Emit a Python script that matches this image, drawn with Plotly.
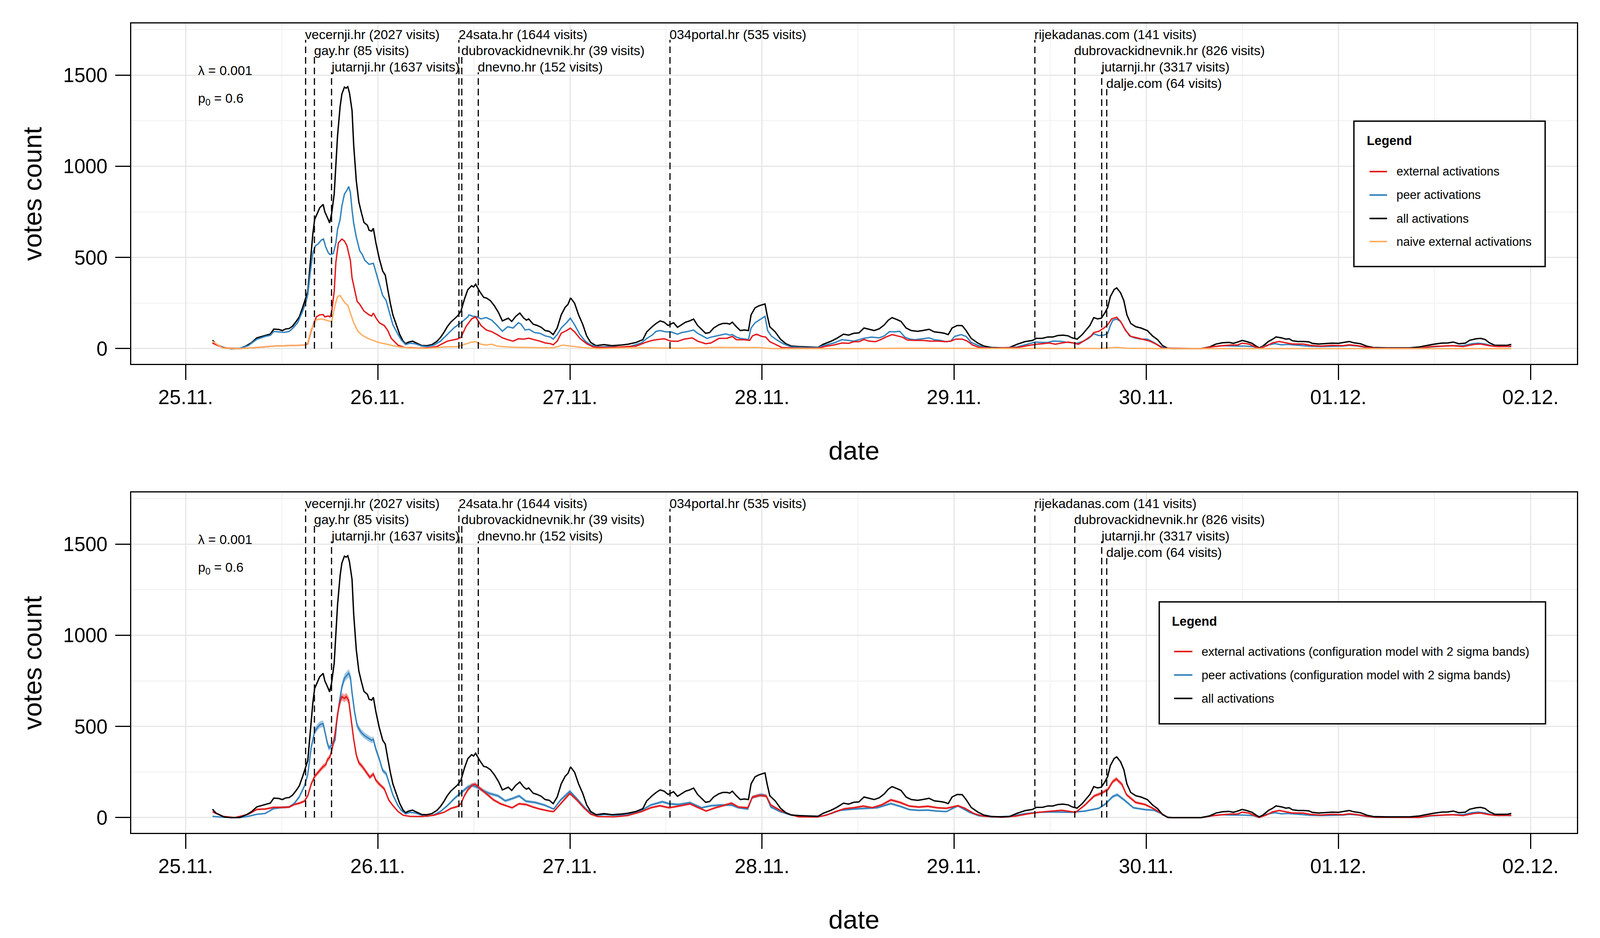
import numpy as np
import pandas as pd
import plotly.graph_objects as go

START = pd.Timestamp("2013-11-25 00:00")

# (hours since 25.11. 00:00, votes count)
ALL_ACT = [(3.35,46),(3.78,25),(4.20,16),(4.84,3),(5.69,0),(6.75,1),(7.60,16),(8.24,33),(8.88,59),(9.94,73),(10.58,80),(11.00,107),(11.64,105),(12.07,99),(12.49,108),(12.92,110),(13.34,123),(13.77,147),(14.19,174),(14.62,227),(15.04,281),(15.25,313),(15.57,473),(15.89,633),(16.11,708),(16.42,740),(16.74,772),(17.17,791),(17.38,750),(17.81,708),(17.98,689),(18.23,740),(18.55,847),(18.76,1007),(18.97,1167),(19.29,1327),(19.51,1396),(19.83,1434),(20.04,1428),(20.25,1436),(20.46,1402),(20.78,1306),(20.99,1113),(21.31,921),(21.63,804),(21.95,745),(22.27,692),(22.70,676),(22.91,649),(23.23,644),(23.44,660),(23.76,580),(24.18,494),(24.61,425),(24.93,403),(25.25,323),(25.56,249),(25.88,185),(26.31,131),(26.73,78),(27.16,41),(27.48,27),(27.80,35),(28.33,41),(28.86,30),(29.50,17),(30.14,16),(30.77,22),(31.41,41),(31.84,62),(32.26,89),(32.69,121),(33.11,145),(33.54,163),(33.96,179),(34.39,206),(34.81,270),(35.24,323),(35.72,345),(35.96,338),(36.22,353),(36.73,313),(37.23,281),(37.56,278),(38.06,263),(38.56,235),(39.06,199),(39.56,152),(39.90,159),(40.30,167),(40.73,149),(41.23,177),(41.74,195),(42.24,167),(42.57,156),(42.84,163),(43.41,134),(43.91,127),(44.41,117),(44.91,99),(45.41,95),(45.91,77),(46.41,113),(46.91,185),(47.41,227),(47.75,242),(48.08,278),(48.58,249),(49.08,185),(49.59,134),(50.09,70),(50.59,34),(51.26,16),(52.26,22),(53.26,16),(54.26,19),(55.26,24),(56.27,34),(57.10,49),(57.60,92),(58.27,120),(58.77,138),(59.27,152),(59.77,145),(60.27,127),(60.94,142),(61.44,117),(61.94,131),(62.45,145),(62.95,152),(63.45,162),(63.95,127),(64.45,106),(64.95,84),(65.45,88),(65.95,113),(66.62,131),(67.12,138),(67.62,138),(67.96,134),(68.29,145),(68.79,120),(69.29,99),(69.79,102),(70.30,99),(70.63,185),(71.13,224),(71.63,235),(72.13,242),(72.37,245),(72.63,185),(72.97,120),(73.64,92),(74.30,52),(74.97,27),(75.64,14),(76.64,11),(77.64,9),(78.98,7),(79.65,24),(80.65,41),(81.32,56),(82.18,79),(82.82,74),(83.46,84),(84.10,86),(84.74,113),(85.37,106),(86.01,99),(86.65,109),(87.29,131),(87.77,156),(88.24,170),(88.88,159),(89.36,149),(90.00,113),(90.64,99),(91.43,95),(92.07,99),(92.87,106),(93.51,92),(94.30,88),(94.78,84),(95.26,77),(95.74,113),(96.38,127),(97.01,126),(97.49,99),(98.13,56),(98.93,31),(99.72,14),(100.68,6),(101.96,4),(102.91,6),(103.87,24),(104.83,38),(105.78,45),(106.26,56),(107.06,57),(107.70,64),(108.33,64),(108.97,72),(109.61,74),(110.25,70),(110.73,59),(111.36,52),(112.00,77),(112.48,102),(112.96,127),(113.44,170),(113.91,163),(114.39,167),(114.87,199),(115.19,227),(115.51,285),(115.99,324),(116.31,333),(116.79,306),(117.20,263),(117.58,185),(118.06,138),(118.70,120),(119.34,113),(120.13,99),(120.77,70),(121.41,49),(122.05,16),(122.69,2),(123.32,0),(126.83,0),(127.88,9),(128.70,25),(129.52,32),(130.34,34),(130.88,29),(131.43,36),(131.98,45),(132.52,39),(133.21,29),(133.75,13),(134.11,4),(134.57,14),(135.26,39),(135.80,52),(136.21,64),(136.90,59),(137.44,52),(137.85,54),(138.26,43),(138.95,39),(139.63,39),(140.31,37),(140.72,29),(141.54,25),(142.36,27),(143.18,30),(144.00,29),(144.82,34),(145.37,39),(145.92,32),(146.74,27),(147.56,13),(148.38,6),(150.02,4),(151.38,5),(153.02,5),(154.12,9),(154.94,16),(155.76,23),(156.85,30),(157.67,31),(158.35,36),(159.04,27),(159.86,30),(160.40,46),(161.22,54),(161.77,56),(162.32,50),(162.86,32),(163.55,18),(164.23,18),(165.05,18),(165.60,23)]

EXT_HEAD = [(3.35,30),(4.63,5),(6.75,0),(8.88,6),(11.00,14),(13.13,16),(14.83,19),(15.25,27),(15.68,99),(16.32,174),(16.74,185),(17.17,187),(17.38,174),(17.81,179),(18.02,174),(18.23,201),(18.55,313),(18.76,473),(19.08,580),(19.51,601),(19.83,590),(20.14,564),(20.57,484),(20.78,388),(21.10,323),(21.42,259),(21.74,243),(22.27,206),(22.91,185),(23.23,179),(23.44,195),(23.76,169),(24.18,142),(24.82,126),(25.25,99),(25.67,57),(26.52,19),(27.37,6),(29.07,3),(30.14,3),(31.41,12),(32.69,41),(33.96,53),(34.39,62),(35.02,121),(35.72,163),(36.22,174),(36.89,127),(37.56,102),(38.23,93),(38.90,77),(39.56,59),(40.23,49),(40.90,41),(41.57,54),(42.24,52),(42.84,57),(43.57,49),(44.24,41),(44.91,31),(45.58,27),(45.91,21),(46.41,41),(46.91,84),(47.58,99),(48.05,112),(48.58,92),(49.25,56),(50.09,27),(50.92,9),(52.26,6),(54.26,9),(56.27,14),(57.44,34),(58.27,45),(58.94,50),(59.77,54),(60.61,41),(61.44,40),(62.28,52),(63.28,59),(63.95,41),(64.95,27),(65.62,31),(66.62,56),(67.62,57),(68.29,67),(68.79,49),(69.63,49),(70.46,45),(70.80,70),(71.30,79),(71.97,67),(72.47,63),(72.97,38),(73.64,24),(74.47,6),(76.64,2),(78.98,2),(79.98,13),(80.98,20),(81.99,31),(82.82,29),(83.46,38),(84.10,38),(84.74,50),(85.37,41),(86.17,38),(86.81,49),(87.45,63),(88.24,77),(88.88,70),(89.52,63),(90.16,47),(91.11,45),(92.07,45),(93.03,41),(93.98,41),(94.94,38),(95.58,41),(96.22,52),(97.01,52),(97.65,41),(98.29,20),(99.09,7),(100.68,2),(103.87,6),(105.15,16),(106.26,24),(107.06,27),(107.86,31),(108.65,24),(109.45,31),(110.25,36),(110.89,31),(111.52,24),(112.16,41),(113.12,70),(113.44,88),(114.07,95),(114.71,113),(115.19,131),(115.67,163),(116.31,172),(116.79,149),(117.42,99),(118.06,67),(118.86,59),(119.66,49),(120.45,41),(121.25,24),(122.05,2),(126.83,0)]

EXT_TAIL = [(128.43,11),(129.52,16),(130.61,20),(131.43,20),(131.98,30),(132.80,25),(133.62,11),(134.11,1),(134.98,14),(135.80,32),(136.62,39),(137.44,32),(138.26,25),(139.63,25),(140.45,18),(141.82,14),(143.18,18),(144.55,16),(145.37,21),(146.46,16),(147.56,7),(148.65,2),(154.12,1),(155.48,11),(156.85,13),(158.22,16),(159.58,11),(160.95,23),(161.77,25),(162.86,16),(163.96,11),(165.60,13)]

PEER_HEAD = [(3.35,33),(4.20,14),(5.05,3),(6.75,1),(7.81,16),(8.88,51),(9.94,67),(10.58,73),(11.00,94),(11.64,91),(12.28,89),(12.92,94),(13.34,110),(13.98,142),(14.62,206),(15.04,259),(15.25,297),(15.57,420),(15.89,526),(16.21,564),(16.53,574),(16.96,596),(17.21,601),(17.49,558),(17.81,526),(18.02,516),(18.44,521),(18.76,580),(18.97,654),(19.29,708),(19.51,782),(19.83,847),(20.14,868),(20.36,889),(20.57,857),(20.78,761),(20.99,686),(21.31,612),(21.74,537),(22.06,516),(22.38,484),(22.91,462),(23.44,468),(23.76,420),(24.18,355),(24.61,291),(25.03,265),(25.46,195),(25.88,131),(26.52,78),(26.95,46),(27.48,22),(28.01,30),(28.65,27),(29.50,14),(30.14,11),(30.99,19),(31.84,41),(32.69,78),(33.54,115),(34.39,142),(35.24,174),(35.39,185),(35.89,177),(36.22,177),(36.89,163),(37.56,170),(38.23,156),(38.90,127),(39.56,95),(40.23,120),(40.90,113),(41.57,142),(41.90,134),(42.40,102),(42.90,106),(43.57,88),(44.24,84),(44.91,70),(45.58,63),(45.91,52),(46.41,77),(46.91,113),(47.58,142),(48.05,167),(48.58,131),(49.25,77),(49.92,41),(50.59,20),(51.59,9),(52.93,11),(54.26,7),(55.60,13),(56.93,31),(57.60,56),(58.27,74),(58.77,95),(59.27,99),(59.94,92),(60.61,92),(61.44,79),(61.94,88),(62.61,93),(63.45,102),(63.95,84),(64.62,67),(65.12,56),(65.62,63),(66.29,70),(66.95,77),(67.46,81),(67.96,74),(68.29,77),(68.79,63),(69.29,56),(69.96,52),(70.30,49),(70.63,113),(71.13,142),(71.63,156),(72.13,170),(72.37,177),(72.70,99),(73.14,70),(73.80,49),(74.64,27),(75.64,9),(77.64,6),(78.98,6),(79.65,16),(80.98,31),(81.99,49),(82.82,45),(83.46,41),(84.10,49),(84.74,57),(85.69,63),(86.65,59),(87.29,70),(87.93,93),(88.56,92),(89.20,95),(89.84,63),(90.48,52),(91.11,49),(91.75,52),(92.87,59),(93.51,49),(94.30,45),(94.94,38),(95.58,41),(96.06,67),(96.85,77),(97.49,67),(98.13,34),(99.09,16),(100.04,4),(101.96,2),(103.87,9),(105.15,24),(106.10,36),(107.06,34),(107.70,34),(108.33,41),(109.29,40),(110.25,34),(111.36,29),(112.16,41),(112.80,56),(113.44,81),(114.07,72),(114.71,74),(115.19,84),(115.51,127),(115.83,156),(116.31,162),(116.79,149),(117.26,113),(117.90,70),(118.54,59),(119.34,52),(120.13,52),(120.93,34),(121.73,13),(122.37,2),(126.83,0)]

PEER_TAIL = [(128.43,11),(129.52,16),(130.61,14),(131.43,14),(132.25,14),(133.34,11),(134.11,1),(134.98,18),(136.08,27),(136.90,21),(137.72,23),(139.08,18),(140.45,13),(141.82,11),(143.18,13),(144.55,14),(145.37,18),(146.46,14),(147.56,6),(148.65,1),(154.12,1),(155.48,9),(156.85,13),(158.22,16),(159.58,16),(160.68,27),(161.50,30),(162.32,25),(163.41,13),(165.60,11)]

NAIVE_EXT = [(3.35,40),(4.63,3),(6.75,0),(8.88,6),(11.00,14),(13.13,16),(14.83,19),(15.25,30),(15.68,105),(16.32,158),(16.96,163),(17.38,158),(17.81,153),(18.23,147),(18.66,238),(18.97,286),(19.29,291),(19.51,275),(19.93,249),(20.25,238),(20.57,195),(20.99,142),(21.53,94),(22.06,73),(22.70,57),(23.33,46),(24.18,33),(25.03,25),(25.88,16),(26.73,9),(28.01,3),(30.14,1),(32.26,9),(33.96,11),(35.02,25),(35.66,35),(36.22,38),(36.89,24),(37.56,20),(38.23,24),(38.90,14),(40.23,9),(41.57,7),(44.91,6),(45.91,4),(47.08,19),(48.25,13),(49.59,6),(51.59,0),(54.93,4),(58.27,4),(61.61,2),(66.62,7),(68.29,6),(71.63,6),(73.30,0),(84.00,0),(90.00,2),(100.00,1),(110.00,2),(114.40,1),(116.31,7),(117.60,2),(122.00,0),(165.60,0)]

CFG_EXT_HEAD = [(3.35,32),(4.63,7),(6.11,0),(7.81,18),(8.88,45),(9.94,47),(11.00,56),(12.07,56),(12.92,58),(13.55,72),(14.19,79),(14.83,90),(15.25,120),(15.68,184),(16.11,226),(16.53,248),(16.96,269),(17.17,280),(17.49,290),(17.70,317),(18.02,333),(18.34,386),(18.66,461),(18.97,568),(19.29,637),(19.51,664),(19.83,653),(20.04,664),(20.36,643),(20.57,568),(20.78,493),(20.99,429),(21.31,344),(21.63,301),(22.06,280),(22.59,248),(23.01,221),(23.44,239),(23.76,205),(24.18,184),(24.82,157),(25.35,98),(25.88,66),(26.52,34),(27.16,13),(28.01,7),(29.50,6),(30.99,13),(32.26,29),(33.11,50),(33.96,61),(34.39,77),(34.81,120),(35.24,152),(35.77,178),(36.16,183),(36.74,162),(37.32,140),(37.90,119),(38.47,97),(39.34,76),(40.20,62),(40.78,54),(41.65,76),(42.51,72),(43.38,58),(44.24,47),(45.40,36),(45.97,33),(46.84,76),(47.99,133),(48.86,97),(49.73,54),(50.59,19),(51.46,6),(53.48,4),(55.21,11),(56.94,33),(58.09,54),(59.25,65),(60.40,54),(61.56,63),(63.00,76),(63.86,58),(65.02,36),(66.17,54),(67.33,69),(68.19,79),(69.06,58),(70.21,54),(70.79,112),(71.65,122),(72.52,119),(73.10,69),(74.25,40),(75.41,19),(76.56,4),(78.87,3),(80.02,13),(81.18,33),(82.33,49),(83.48,54),(84.64,63),(85.79,54),(86.95,70),(88.10,97),(89.25,83),(90.41,63),(91.56,58),(92.72,62),(93.87,54),(95.03,51),(96.47,65),(97.33,51),(98.49,22),(99.64,8),(101.95,2),(103.68,8),(105.41,22),(106.57,29),(107.72,34),(109.45,40),(111.18,29),(112.34,69),(113.49,119),(114.36,133),(115.22,155),(115.80,197),(116.26,212),(116.95,183),(117.53,126),(118.69,83),(119.84,72),(121.00,47),(122.03,19),(122.69,0),(126.83,0)]

CFG_PEER_HEAD = [(3.35,7),(4.63,2),(6.75,0),(7.81,7),(8.88,18),(9.94,23),(11.00,50),(12.07,56),(12.92,58),(13.55,77),(14.19,114),(14.83,173),(15.25,237),(15.68,386),(16.11,472),(16.53,499),(16.85,512),(17.17,515),(17.38,472),(17.70,408),(17.91,381),(18.23,397),(18.66,424),(18.87,525),(19.19,632),(19.51,717),(19.83,765),(20.14,781),(20.36,792),(20.57,771),(20.78,685),(21.10,579),(21.42,504),(21.84,472),(22.16,456),(22.48,445),(22.91,434),(23.23,424),(23.44,429),(23.76,375),(24.18,322),(24.61,258),(25.03,242),(25.46,184),(25.88,125),(26.52,66),(26.95,39),(27.48,21),(28.01,29),(28.65,26),(29.50,13),(30.14,7),(30.99,15),(31.84,34),(32.69,66),(33.54,104),(34.39,136),(35.24,168),(35.77,178),(36.16,172),(37.03,151),(37.90,133),(39.05,119),(39.92,92),(40.78,104),(41.65,119),(42.51,90),(43.67,83),(44.82,69),(45.97,47),(46.84,97),(47.99,144),(48.86,104),(50.01,47),(51.17,11),(52.32,17),(53.48,13),(55.21,15),(56.94,40),(58.09,69),(59.54,87),(60.40,76),(61.56,72),(63.00,82),(64.44,54),(65.59,65),(66.75,69),(68.19,69),(69.06,54),(70.21,47),(70.79,112),(71.94,126),(72.52,119),(73.10,58),(74.25,33),(75.41,17),(77.13,8),(79.44,8),(80.60,22),(81.75,40),(83.48,47),(85.22,51),(86.37,54),(88.10,77),(89.25,62),(90.41,44),(91.56,40),(92.72,41),(93.87,36),(95.03,33),(96.47,65),(97.91,29),(99.07,10),(100.80,3),(103.10,8),(104.83,22),(106.57,29),(108.30,31),(110.61,29),(112.34,36),(114.07,51),(114.93,76),(115.80,115),(116.37,126),(117.24,97),(118.40,54),(119.84,44),(121.00,40),(122.03,19),(122.69,0),(126.83,0)]

SITES = ["vecernji.hr", "gay.hr", "jutarnji.hr", "24sata.hr", "dubrovackidnevnik.hr", "dnevno.hr",
         "034portal.hr", "rijekadanas.com", "dubrovackidnevnik.hr", "jutarnji.hr", "dalje.com"]
VISITS = [2027, 85, 1637, 1644, 39, 152, 535, 141, 826, 3317, 64]
EVENT_HOURS = [14.98, 16.08, 18.22, 34.13, 34.49, 36.55, 60.50, 106.08, 111.07, 114.43, 115.06]
EVENT_ROW = [0, 1, 2, 0, 1, 2, 0, 0, 1, 2, 3]

LAMBDA = "0.001"
P0 = "0.6"
Y_TICKS = [0, 500, 1000, 1500]
DAY_TICKS = pd.date_range("2013-11-25", "2013-12-02", freq="D")
NOONS = pd.date_range("2013-11-24 12:00", "2013-12-02 12:00", freq="D")

RED = "#E41A1C"
BLUE = "#3182BD"
ORANGE = "#FDAE61"
BLACK = "#000000"
BAND_K = 0.8  # 2-sigma half-width factor (sqrt-scaled)

FONT = "Liberation Sans, Arial, Helvetica, sans-serif"
W, H = 4200, 2400


def xy(pairs):
    h = np.array([p[0] for p in pairs], dtype=float)
    v = np.array([p[1] for p in pairs], dtype=float)
    return START + pd.to_timedelta(h, unit="h"), v


fig = go.Figure()


def line(pairs, color, xa, ya, width=3.5):
    x, y = xy(pairs)
    fig.add_trace(go.Scatter(x=x, y=y, mode="lines", line=dict(color=color, width=width),
                             xaxis=xa, yaxis=ya, showlegend=False, hoverinfo="skip"))


def band(pairs, rgba, xa, ya):
    x, y = xy(pairs)
    hw = BAND_K * np.sqrt(y)
    up = y + hw
    lo = np.clip(y - hw, 0, None)
    fig.add_trace(go.Scatter(x=x, y=up, mode="lines", line=dict(width=0, color=rgba),
                             xaxis=xa, yaxis=ya, showlegend=False, hoverinfo="skip"))
    fig.add_trace(go.Scatter(x=x, y=lo, mode="lines", line=dict(width=0, color=rgba), fill="tonexty",
                             fillcolor=rgba, xaxis=xa, yaxis=ya, showlegend=False, hoverinfo="skip"))


# top panel
line(ALL_ACT, BLACK, "x", "y")
line(PEER_HEAD + PEER_TAIL, BLUE, "x", "y")
line(EXT_HEAD + EXT_TAIL, RED, "x", "y")
line(NAIVE_EXT, ORANGE, "x", "y")

# bottom panel
band(CFG_PEER_HEAD + PEER_TAIL, "rgba(49,130,189,0.45)", "x2", "y2")
band(CFG_EXT_HEAD + EXT_TAIL, "rgba(228,26,28,0.45)", "x2", "y2")
line(CFG_PEER_HEAD + PEER_TAIL, BLUE, "x2", "y2")
line(CFG_EXT_HEAD + EXT_TAIL, RED, "x2", "y2")
line(ALL_ACT, BLACK, "x2", "y2")

X_RANGE = [START - pd.Timedelta(hours=6.78), START + pd.Timedelta(days=7, hours=5.78)]
Y_RANGE = [-83.6, 1783]

xcommon = dict(type="date", range=X_RANGE, tickmode="array", tickvals=list(DAY_TICKS), tickformat="%d.%m.",
               ticks="outside", ticklen=38, tickwidth=3, tickcolor="black", showline=True, linecolor="black",
               linewidth=3, mirror=True, showgrid=True, gridcolor="#E6E6E6", gridwidth=3, zeroline=False,
               tickfont=dict(size=52, family=FONT, color="black"),
               minor=dict(tickmode="array", tickvals=list(NOONS), showgrid=True, gridcolor="#F4F4F4",
                          gridwidth=3, ticks=""))
ycommon = dict(range=Y_RANGE, tickmode="array", tickvals=Y_TICKS, ticks="outside", ticklen=38, tickwidth=3,
               tickcolor="black", showline=True, linecolor="black", linewidth=3, mirror=True, showgrid=True,
               gridcolor="#E6E6E6", gridwidth=3, zeroline=False, ticklabelstandoff=10,
               tickfont=dict(size=51, family=FONT, color="black"),
               minor=dict(tickmode="array", tickvals=[250, 750, 1250, 1750], showgrid=True,
                          gridcolor="#F4F4F4", gridwidth=3, ticks=""))

XD = [345 / W, 4139 / W]
fig.update_layout(
    width=W, height=H, margin=dict(l=0, r=0, t=0, b=0),
    paper_bgcolor="white", plot_bgcolor="white", showlegend=False,
    font=dict(family=FONT, color="black"),
    xaxis=dict(domain=XD, anchor="y", **xcommon),
    yaxis=dict(domain=[1 - 931 / H, 1 - 60 / H], anchor="x", **ycommon),
    xaxis2=dict(domain=XD, anchor="y2", **xcommon),
    yaxis2=dict(domain=[1 - 2131 / H, 1 - 1260 / H], anchor="x2", **ycommon),
)

ROW_Y = [1723, 1635, 1545, 1453]
LABEL_SIZE = 33.5
shapes = []
annotations = []
for xa, ya in (("x", "y"), ("x2", "y2")):
    for site, vis, hr, row in zip(SITES, VISITS, EVENT_HOURS, EVENT_ROW):
        t = START + pd.Timedelta(hours=hr)
        shapes.append(dict(type="line", xref=xa, yref=ya, x0=t, x1=t, y0=0, y1=ROW_Y[row] - 30,
                           line=dict(color="black", width=3, dash="17px,10px")))
        annotations.append(dict(xref=xa, yref=ya, x=t, y=ROW_Y[row], text=f"{site} ({vis} visits)",
                                showarrow=False, xanchor="left", yanchor="middle", xshift=-3,
                                font=dict(size=LABEL_SIZE, family=FONT, color="black")))
    t0 = START + pd.Timedelta(hours=1.45)
    annotations.append(dict(xref=xa, yref=ya, x=t0, y=1524, text=f"λ = {LAMBDA}", showarrow=False,
                            xanchor="left", yanchor="middle", font=dict(size=LABEL_SIZE, family=FONT)))
    annotations.append(dict(xref=xa, yref=ya, x=t0, y=1367, text=f"p<sub>0</sub> = {P0}", showarrow=False,
                            xanchor="left", yanchor="middle", font=dict(size=LABEL_SIZE, family=FONT)))


def px(xp, yp):
    return xp / W, 1 - yp / H


# axis titles
for yc, yd in ((495.5, 1152), (1695.5, 2352)):
    annotations.append(dict(xref="paper", yref="paper", x=px(85, 0)[0], y=px(0, yc)[1], text="votes count",
                            textangle=-90, showarrow=False, xanchor="center", yanchor="middle",
                            font=dict(size=67, family=FONT, color="black")))
    annotations.append(dict(xref="paper", yref="paper", x=px(2242, 0)[0], y=px(0, yd)[1], text="date",
                            showarrow=False, xanchor="center", yanchor="middle",
                            font=dict(size=67, family=FONT, color="black")))


def legend(box, title_pos, items, line_x, text_x, size):
    x0, y0, x1, y1 = box
    a0 = px(x0, y1)
    a1 = px(x1, y0)
    shapes.append(dict(type="rect", xref="paper", yref="paper", x0=a0[0], y0=a0[1], x1=a1[0], y1=a1[1],
                       line=dict(color="black", width=3.5), fillcolor="white", layer="above"))
    tp = px(*title_pos)
    annotations.append(dict(xref="paper", yref="paper", x=tp[0], y=tp[1], text="<b>Legend</b>",
                            showarrow=False, xanchor="left", yanchor="middle",
                            font=dict(size=32.5, family=FONT, color="black")))
    for label, color, yy in items:
        l0 = px(line_x[0], yy)
        l1 = px(line_x[1], yy)
        shapes.append(dict(type="line", xref="paper", yref="paper", x0=l0[0], y0=l0[1], x1=l1[0], y1=l1[1],
                           line=dict(color=color, width=4), layer="above"))
        tpos = px(text_x, yy)
        annotations.append(dict(xref="paper", yref="paper", x=tpos[0], y=tpos[1], text=label,
                                showarrow=False, xanchor="left", yanchor="middle",
                                font=dict(size=size, family=FONT, color="black")))


legend((3554, 310, 4056, 682), (3586, 360),
       [("external activations", RED, 439), ("peer activations", BLUE, 499),
        ("all activations", BLACK, 559), ("naive external activations", ORANGE, 618)],
       (3595, 3641), 3664, 30.8)
legend((3043, 1540, 4057, 1852), (3074, 1590),
       [("external activations (configuration model with 2 sigma bands)", RED, 1667),
        ("peer activations (configuration model with 2 sigma bands)", BLUE, 1727),
        ("all activations", BLACK, 1787)],
       (3082, 3130), 3152, 31)

fig.update_layout(shapes=shapes, annotations=annotations)

# fit the fixed-size figure to the actual visible viewport (no margins / scrollbars)
POST = """
document.documentElement.style.margin='0px';
document.body.style.margin='0px';
document.documentElement.style.overflow='hidden';
document.body.style.overflow='hidden';
var gd = document.getElementById('{plot_id}');
var w = window.innerWidth || document.documentElement.clientWidth;
var h = window.innerHeight || document.documentElement.clientHeight;
if (w > 0 && h > 0) { Plotly.relayout(gd, {width: w, height: h}); }
"""

fig.write_html("out.html", config={"displayModeBar": False}, post_script=POST)
